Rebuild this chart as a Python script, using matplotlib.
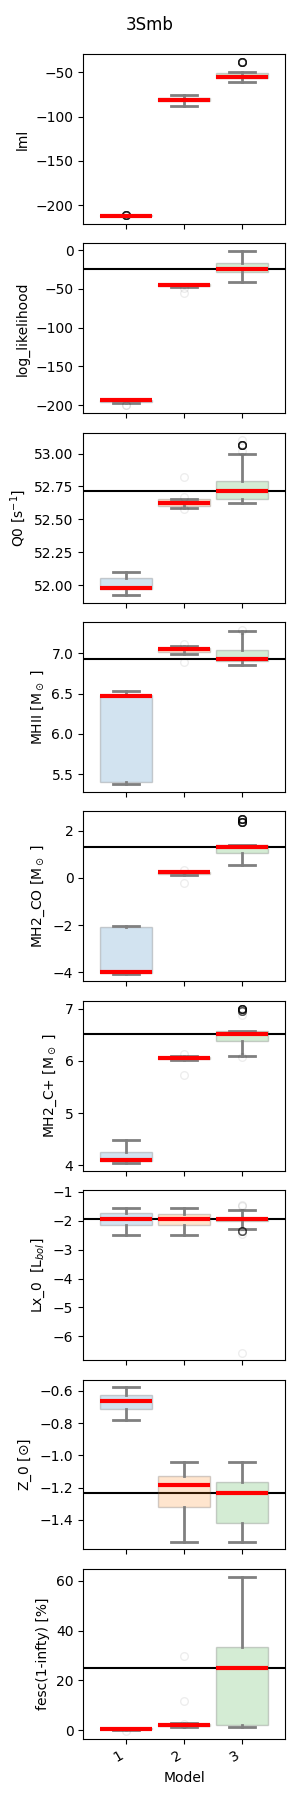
import matplotlib
matplotlib.use('Agg')
import matplotlib.pyplot as plt
from matplotlib.colors import to_rgba

models = ['1', '2', '3']
box_colors = ['C0', 'C1', 'C2']

labels = ['lml', 'log_likelihood', r'Q0 [s$^{-1}$]', r'MHII [M$_\odot$ ]',
          r'MH2_CO [M$_\odot$ ]', r'MH2_C+ [M$_\odot$ ]', r'Lx_0  [L$_{bol}$]',
          r'Z_0 [$\odot$]', 'fesc(1-infty) [%]']

# boxplot statistics per parameter, one value per model
med = [[-211.5, -81.0, -54.9],
       [-193.5, -44.8, -24.5],
       [51.98, 52.622, 52.716],
       [6.47, 7.05, 6.925],
       [-3.99, 0.24, 1.30],
       [4.11, 6.063, 6.515],
       [-1.92, -1.93, -1.94],
       [-0.662, -1.186, -1.236],
       [0.65, 2.25, 24.9]]
q1 = [[-212.0, -82.5, -57.0],
      [-196.0, -46.5, -28.6],
      [51.97, 52.60, 52.657],
      [5.408, 7.02, 6.905],
      [-4.02, 0.17, 1.03],
      [4.08, 6.03, 6.37],
      [-2.13, -2.13, -1.99],
      [-0.714, -1.32, -1.42],
      [0.4, 1.9, 2.0]]
q3 = [[-211.0, -79.5, -51.0],
      [-193.0, -44.3, -16.1],
      [52.05, 52.653, 52.795],
      [6.48, 7.07, 7.037],
      [-2.08, 0.26, 1.38],
      [4.25, 6.08, 6.57],
      [-1.73, -1.77, -1.90],
      [-0.625, -1.128, -1.163],
      [0.8, 2.4, 33.6]]
whislo = [[-212.1, -87.8, -61.0],
          [-197.0, -47.8, -41.7],
          [51.925, 52.587, 52.625],
          [5.375, 6.99, 6.855],
          [-4.05, 0.13, 0.55],
          [4.046, 6.01, 6.10],
          [-2.48, -2.48, -2.28],
          [-0.78, -1.535, -1.535],
          [0.3, 1.5, 1.2]]
whishi = [[-211.0, -75.3, -50.0],
          [-192.8, -44.0, -1.3],
          [52.097, 52.653, 52.997],
          [6.535, 7.095, 7.279],
          [-2.04, 0.28, 1.40],
          [4.49, 6.10, 6.57],
          [-1.54, -1.54, -1.62],
          [-0.579, -1.039, -1.039],
          [1.0, 2.8, 61.6]]
# outliers; a value repeated many times shows up as a dark circle
fliers = [[[-210.4] * 30, [], [-38.2] * 30],
          [[-199.5, -200.5], [-49.5, -56.0], []],
          [[], [52.824, 52.67, 52.575], [53.066] * 30 + [53.10, 53.02]],
          [[], [6.89, 7.11], [7.29]],
          [[], [0.35, -0.21], [2.38] * 30 + [2.48] * 30],
          [[], [6.14, 5.73], [7.0] * 30 + [6.95] * 15 + [6.88, 6.07]],
          [[], [], [-1.45, -1.50] + [-2.35] * 15 + [-2.45, -6.58]],
          [[], [], []],
          [[-0.3], [29.8, 11.8, 2.6], []]]
truth = [None, -24.3, 52.716, 6.925, 1.30, 6.515, -1.94, -1.236, 24.9]

fig, axes = plt.subplots(9, 1, figsize=(3, 18), sharex=True)
fig.subplots_adjust(left=0.277, right=0.95, top=0.97, bottom=0.034, hspace=0.115)
fig.suptitle('3Smb', y=0.991)

for i, ax in enumerate(axes):
    stats = []
    for j in range(3):
        stats.append(dict(med=med[i][j], q1=q1[i][j], q3=q3[i][j],
                          whislo=whislo[i][j], whishi=whishi[i][j],
                          fliers=fliers[i][j]))
    bp = ax.bxp(stats, positions=[1, 2, 3], widths=0.9, patch_artist=True,
                boxprops=dict(edgecolor=(0.3, 0.3, 0.3, 0.25), linewidth=1),
                medianprops=dict(color='red', linewidth=3),
                whiskerprops=dict(color='grey', linewidth=2),
                capprops=dict(color='grey', linewidth=2),
                flierprops=dict(marker='o', markersize=5.5, markerfacecolor='none',
                                markeredgecolor='black', alpha=0.07))
    for patch, c in zip(bp['boxes'], box_colors):
        patch.set_facecolor(to_rgba(c, 0.2))
    if truth[i] is not None:
        ax.axhline(truth[i], color='black', linewidth=1.5, zorder=1)
    ax.set_ylabel(labels[i])

axes[6].set_ylim(-6.82, -0.94)
axes[-1].set_xlim(0.26, 3.74)
axes[-1].set_xticks([1, 2, 3])
axes[-1].set_xticklabels(models, rotation=30, ha='right')
axes[-1].set_xlabel('Model')

fig.savefig('out.png', dpi=100)
